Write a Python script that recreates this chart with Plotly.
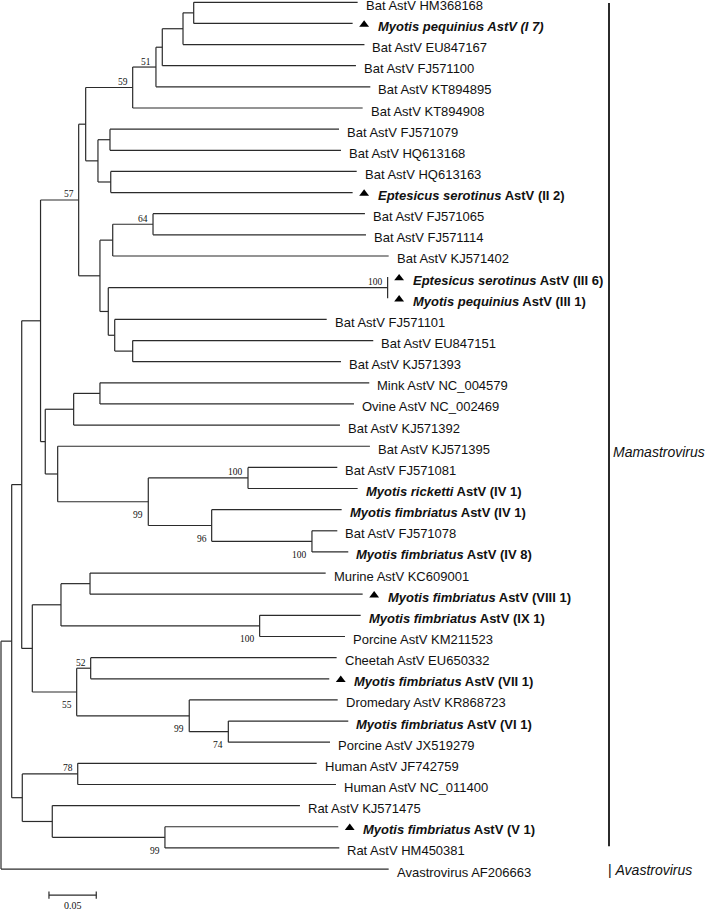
import plotly.graph_objects as go

# ---------------- data ----------------
leaf_labels = [
    "Bat AstV HM368168",
    "<b><i>Myotis pequinius AstV (I 7)</i></b>",
    "Bat AstV EU847167",
    "Bat AstV FJ571100",
    "Bat AstV KT894895",
    "Bat AstV KT894908",
    "Bat AstV FJ571079",
    "Bat AstV HQ613168",
    "Bat AstV HQ613163",
    "<b><i>Eptesicus serotinus</i> AstV (II 2)</b>",
    "Bat AstV FJ571065",
    "Bat AstV FJ571114",
    "Bat AstV KJ571402",
    "<b><i>Eptesicus serotinus</i> AstV (III 6)</b>",
    "<b><i>Myotis pequinius</i> AstV (III 1)</b>",
    "Bat AstV FJ571101",
    "Bat AstV EU847151",
    "Bat AstV KJ571393",
    "Mink AstV NC_004579",
    "Ovine AstV NC_002469",
    "Bat AstV KJ571392",
    "Bat AstV KJ571395",
    "Bat AstV FJ571081",
    "<b><i>Myotis ricketti</i> AstV (IV 1)</b>",
    "<b><i>Myotis fimbriatus</i> AstV (IV 1)</b>",
    "Bat AstV FJ571078",
    "<b><i>Myotis fimbriatus</i> AstV (IV 8)</b>",
    "Murine AstV KC609001",
    "<b><i>Myotis fimbriatus</i> AstV (VIII 1)</b>",
    "<b><i>Myotis fimbriatus</i> AstV (IX 1)</b>",
    "Porcine AstV KM211523",
    "Cheetah AstV EU650332",
    "<b><i>Myotis fimbriatus</i> AstV (VII 1)</b>",
    "Dromedary AstV KR868723",
    "<b><i>Myotis fimbriatus</i> AstV (VI 1)</b>",
    "Porcine AstV JX519279",
    "Human AstV JF742759",
    "Human AstV NC_011400",
    "Rat AstV KJ571475",
    "<b><i>Myotis fimbriatus</i> AstV (V 1)</b>",
    "Rat AstV HM450381",
    "Avastrovirus AF206663",
]

# distance of each tip from the root (substitutions/site)
leaf_depth = [
    0.3770, 0.3717, 0.3842, 0.3752, 0.3904, 0.3823, 0.3573, 0.3594, 0.3760, 0.3717,
    0.3847, 0.3858, 0.4098, 0.4087, 0.4087, 0.3443, 0.3935, 0.3594, 0.3893, 0.3731,
    0.3583, 0.3900, 0.3555, 0.3770, 0.3601, 0.3555, 0.3671, 0.3432, 0.3823, 0.3802,
    0.3636, 0.3548, 0.3470, 0.3559, 0.3671, 0.3478, 0.3337, 0.3541, 0.3160, 0.3565,
    0.3576, 0.4098,
]

# tips found in this study (marked with a triangle)
marked_leaves = [1, 9, 13, 14, 28, 32, 39]

# internal nodes: name, children, distance from root, bootstrap support
node_names = ["A", "B", "C", "D", "E", "F", "G", "H", "I", "M", "L", "III", "P", "O", "N",
              "K", "J", "Q", "R", "W", "Y", "X", "V", "S", "T", "U", "Z", "AA", "AB",
              "AG", "AI", "AH", "AD", "AC", "AE", "AJ", "AM", "AL", "AK", "AF", "ROOT"]
node_children = [
    [0, 1], ["A", 2], ["B", 3], ["C", 4], ["D", 5], [6, 7], [8, 9], ["F", "G"], ["E", "H"],
    [10, 11], ["M", 12], [13, 14], [16, 17], [15, "P"], ["III", "O"], ["L", "N"], ["I", "K"],
    [18, 19], ["Q", 20], [22, 23], [25, 26], [24, "Y"], ["W", "X"], [21, "V"], ["R", "S"],
    ["J", "T"], [27, 28], [29, 30], ["Z", "AA"], [31, 32], [34, 35], [33, "AI"], ["AG", "AH"],
    ["AB", "AD"], ["U", "AC"], [36, 37], [39, 40], [38, "AM"], ["AJ", "AL"], ["AE", "AK"],
    ["AF", 41],
]
node_depth = [
    0.2037, 0.1924, 0.1705, 0.1638, 0.1392, 0.1152, 0.1160, 0.1025, 0.0895, 0.1607,
    0.1181, 0.4087, 0.1392, 0.1202, 0.1134, 0.1046, 0.0821, 0.1046, 0.0768, 0.2611,
    0.3287, 0.2227, 0.1557, 0.0599, 0.0468, 0.0418, 0.0941, 0.2734, 0.0634, 0.0948,
    0.2403, 0.1990, 0.0800, 0.0331, 0.0219, 0.0811, 0.1733, 0.0542, 0.0225, 0.0113,
    0.0,
]
node_support = [
    None, None, None, 51, 59, None, None, None, None, 64,
    None, 100, None, None, None, None, 57, None, None, 100,
    100, 96, 99, None, None, None, None, 100, None, 52,
    74, 99, 55, None, None, 78, 99, None, None, None,
    None,
]

clade_names = ["Mamastrovirus", "Avastrovirus"]
clade_first = [0, 41]
clade_last = [40, 41]

scale_value = 0.05

# ---------------- style ----------------
W, H = 709, 911
PX_PER_UNIT = 946.0          # horizontal pixels per substitution unit
X0_PX = 1.0                  # pixel position of the root
ROW_PX = 21.14               # vertical spacing of tips
Y0_PX = 2.3                  # pixel position of the first tip
support_below = {"V", "X", "Y", "AA", "AD", "AH", "AI", "AM"}
LINE_COLOR = "#2b2b2b"
TEXT_COLOR = "#111111"
SANS = "Liberation Sans, Arial, sans-serif"
SERIF = "Liberation Serif, Times New Roman, serif"

# ---------------- layout computation ----------------
depth = {i: d for i, d in enumerate(leaf_depth)}
children = {}
for n, c, d in zip(node_names, node_children, node_depth):
    depth[n] = d
    children[n] = c

ycache = {}


def ypos(n):
    if n in ycache:
        return ycache[n]
    if isinstance(n, int):
        y = float(n)
    else:
        c = children[n]
        y = (ypos(c[0]) + ypos(c[-1])) / 2.0
    ycache[n] = y
    return y


lx, ly = [], []
for n in node_names:
    c = children[n]
    xn = depth[n]
    # vertical
    lx += [xn, xn, None]
    ly += [ypos(c[0]), ypos(c[-1]), None]
    # horizontals
    for ch in c:
        lx += [xn, depth[ch], None]
        ly += [ypos(ch), ypos(ch), None]

fig = go.Figure()
fig.add_trace(go.Scatter(x=lx, y=ly, mode="lines",
                         line=dict(color=LINE_COLOR, width=1.2),
                         hoverinfo="skip", showlegend=False))

# triangles
tri_x = [leaf_depth[i] + 11.5 / PX_PER_UNIT for i in marked_leaves]
tri_y = [ypos(i) + 0.05 for i in marked_leaves]
fig.add_trace(go.Scatter(x=tri_x, y=tri_y, mode="markers",
                         marker=dict(symbol="triangle-up", size=8.5, color="#000000",
                                     line=dict(width=0)),
                         hoverinfo="skip", showlegend=False))

annotations = []
for i, (lab, d) in enumerate(zip(leaf_labels, leaf_depth)):
    shift = 24 if i in marked_leaves else 7
    annotations.append(dict(x=d, y=ypos(i), text=lab, xanchor="left", yanchor="middle",
                            xshift=shift, yshift=-3, showarrow=False, borderpad=0,
                            font=dict(family=SANS, size=13, color=TEXT_COLOR)))

for n, s in zip(node_names, node_support):
    if s is None:
        continue
    below = n in support_below
    annotations.append(dict(x=depth[n], y=ypos(n), text=str(s), xanchor="right",
                            yanchor="middle", xshift=-4, yshift=(-13.5 if below else 5.5),
                            showarrow=False, borderpad=0,
                            font=dict(family=SERIF, size=9.5, color=TEXT_COLOR)))

# clade bars
xmin = -X0_PX / PX_PER_UNIT
xmax = (W - X0_PX) / PX_PER_UNIT
ymin_idx = -Y0_PX / ROW_PX
ymax_idx = (H - Y0_PX) / ROW_PX
bar_x = xmin + 609.0 / PX_PER_UNIT
shapes = []
for name, a, b in zip(clade_names, clade_first, clade_last):
    if a != b:
        shapes.append(dict(type="line", xref="x", yref="y", x0=bar_x, x1=bar_x,
                           y0=ypos(a) + 0.03, y1=ypos(b) - 0.08,
                           line=dict(color=LINE_COLOR, width=2)))
        annotations.append(dict(x=bar_x, y=ypos(a) + (ypos(b) - ypos(a)) * 0.532,
                                text="<i>%s</i>" % name, xanchor="left", yanchor="middle",
                                xshift=3, showarrow=False, borderpad=0,
                                font=dict(family=SANS, size=14, color=TEXT_COLOR)))
    else:
        annotations.append(dict(x=bar_x, y=ypos(a), text="| <i>%s</i>" % name,
                                xanchor="left", yanchor="middle", xshift=-2, yshift=-1,
                                showarrow=False, borderpad=0,
                                font=dict(family=SANS, size=14, color=TEXT_COLOR)))

# scale bar
sb_x0 = 0.0507
sb_y = 42.23
tick = 0.17
shapes.append(dict(type="line", xref="x", yref="y", x0=sb_x0, x1=sb_x0 + scale_value,
                   y0=sb_y, y1=sb_y, line=dict(color=LINE_COLOR, width=1.2)))
for xx in (sb_x0, sb_x0 + scale_value):
    shapes.append(dict(type="line", xref="x", yref="y", x0=xx, x1=xx,
                       y0=sb_y - tick, y1=sb_y + tick, line=dict(color=LINE_COLOR, width=1.2)))
annotations.append(dict(x=sb_x0 + scale_value / 2, y=sb_y, text=str(scale_value),
                        xanchor="center", yanchor="middle", yshift=-10.5, showarrow=False,
                        borderpad=0, font=dict(family=SERIF, size=10, color=TEXT_COLOR)))

fig.update_layout(
    width=W, height=H,
    margin=dict(l=0, r=0, t=0, b=0, pad=0),
    paper_bgcolor="white", plot_bgcolor="white",
    xaxis=dict(range=[xmin, xmax], visible=False, fixedrange=True),
    yaxis=dict(range=[ymax_idx, ymin_idx], visible=False, fixedrange=True),
    annotations=annotations, shapes=shapes,
    showlegend=False,
)

fig.write_html(
    "out.html",
    config={"displayModeBar": False},
    post_script="document.body.style.margin='0';document.body.style.padding='0';"
                "document.body.style.overflow='hidden';",
)
